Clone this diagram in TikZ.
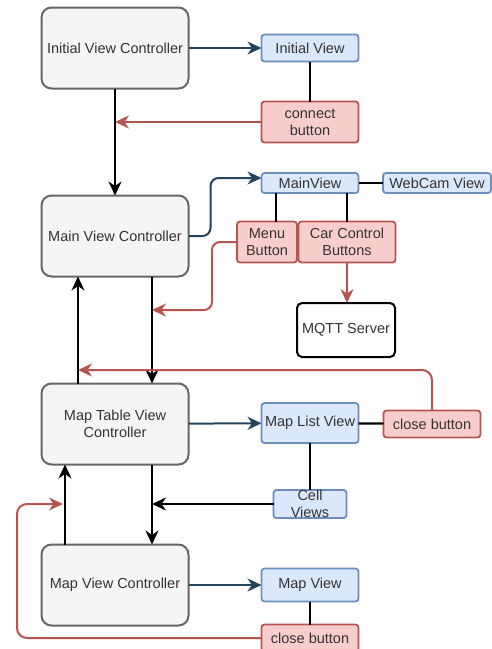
\documentclass[tikz,border=0pt]{standalone}
\usepackage{fontspec}
\setmainfont{Liberation Sans}
\usetikzlibrary{arrows.meta}

\definecolor{ctrlfill}{HTML}{F5F5F5}
\definecolor{ctrlline}{HTML}{666666}
\definecolor{ctrltext}{HTML}{333333}
\definecolor{viewfill}{HTML}{DAE8FC}
\definecolor{viewline}{HTML}{6C8EBF}
\definecolor{btnfill}{HTML}{F8CECC}
\definecolor{btnline}{HTML}{B85450}
\definecolor{navy}{HTML}{23445D}

\begin{document}
\begin{tikzpicture}[x=1pt, y=-1pt,
    every node/.style={font=\fontsize{14.5}{17}\selectfont, text=ctrltext, align=center, inner sep=0pt, outer sep=0pt},
    ctrl/.style={draw=ctrlline, fill=ctrlfill, line width=2pt, rounded corners=10pt, minimum width=147pt, minimum height=81pt},
    view/.style={draw=viewline, fill=viewfill, line width=1.8pt, rounded corners=3pt, minimum width=97pt},
    btn/.style={draw=btnline, fill=btnfill, line width=1.8pt, rounded corners=3pt, minimum width=97pt, minimum height=41pt},
    server/.style={draw=black, fill=white, line width=2pt, rounded corners=5pt, minimum width=98pt, minimum height=54pt},
    flow/.style={line width=2pt, -{Stealth[length=14pt, width=13pt, inset=4.5pt]}},
    viewflow/.style={flow, draw=navy},
    btnflow/.style={flow, draw=btnline},
    link/.style={line width=2.2pt}]

\useasboundingbox (0,0) rectangle (492,649);

\node[ctrl] (ivc) at (115,48) {Initial View Controller};
\node[view, minimum height=27pt] (iv) at (310,48) {Initial View};
\node[btn] (connect) at (310,122) {connect\\button};

\node[ctrl] (mvc) at (115,236) {Main View Controller};
\node[view, minimum height=20pt] (mainview) at (310,183) {MainView};
\node[view, minimum width=108pt, minimum height=20pt] (webcam) at (437,183) {WebCam View};
\node[btn, minimum width=60pt] (menu) at (267,242) {Menu\\Button};
\node[btn] (carctrl) at (347,242) {Car Control\\Buttons};
\node[server] (mqtt) at (346,330) {MQTT Server};

\node[ctrl] (mtvc) at (115,424) {Map Table View\\Controller};
\node[view, minimum height=40pt] (maplist) at (310,423) {Map List View};
\node[btn, minimum height=27pt] (close1) at (432,424) {close button};
\node[view, minimum width=73pt, minimum height=28pt] (cell) at (310,504) {Cell\\Views};

\node[ctrl] (mapvc) at (115,585) {Map View Controller};
\node[view, minimum height=33pt] (mapview) at (310,585) {Map View};
\node[btn, minimum height=27pt] (close2) at (310,638) {close button};

\coordinate (mvcdown) at ([xshift=37pt]mvc.south);
\coordinate (mvcup) at ([xshift=-37pt]mvc.south);
\coordinate (mtvcdown) at ([xshift=37pt]mtvc.south);
\coordinate (mtvcup) at ([xshift=-50pt]mtvc.south);
\coordinate (menuhit) at (152,310);
\coordinate (closehit) at (78,370);
\coordinate (maphit) at (63,504);

\draw[viewflow] (ivc) -- (iv);
\draw[link] (iv) -- (connect);
\draw[flow] (ivc) -- (mvc);
\draw[btnflow] (connect) -- (connect -| ivc);

\draw[viewflow, rounded corners=8pt] (mvc.east) -- ++(22,0) |- ([yshift=5pt]mainview.west);
\draw[link] (mainview) -- (webcam);
\draw[link] ([xshift=9pt]menu.north) -- ([xshift=9pt]menu.north |- mainview.south);
\draw[link] (carctrl.north) -- (carctrl.north |- mainview.south);
\draw[btnflow] (carctrl) -- (carctrl |- mqtt.north);
\draw[btnflow, rounded corners=8pt] (menu.west) -- ++(-25,0) |- (menuhit);

\draw[flow] (mvcdown) -- (mvcdown |- mtvc.north);
\draw[flow] (mvcup |- mtvc.north) -- (mvcup);
\draw[btnflow, rounded corners=10pt] (close1.north) |- (closehit);

\draw[viewflow] (mtvc) -- (maplist);
\draw[link] (maplist) -- (close1);
\draw[link] (maplist) -- (cell);
\draw[flow] (cell) -- (cell -| mtvcdown);

\draw[flow] (mtvcdown) -- (mtvcdown |- mapvc.north);
\draw[flow] (mtvcup |- mapvc.north) -- (mtvcup);
\draw[btnflow, rounded corners=10pt] (close2.west) -| (17,504) -- (maphit);

\draw[viewflow] (mapvc) -- (mapview);
\draw[link] (mapview) -- (close2);

\end{tikzpicture}
\end{document}
